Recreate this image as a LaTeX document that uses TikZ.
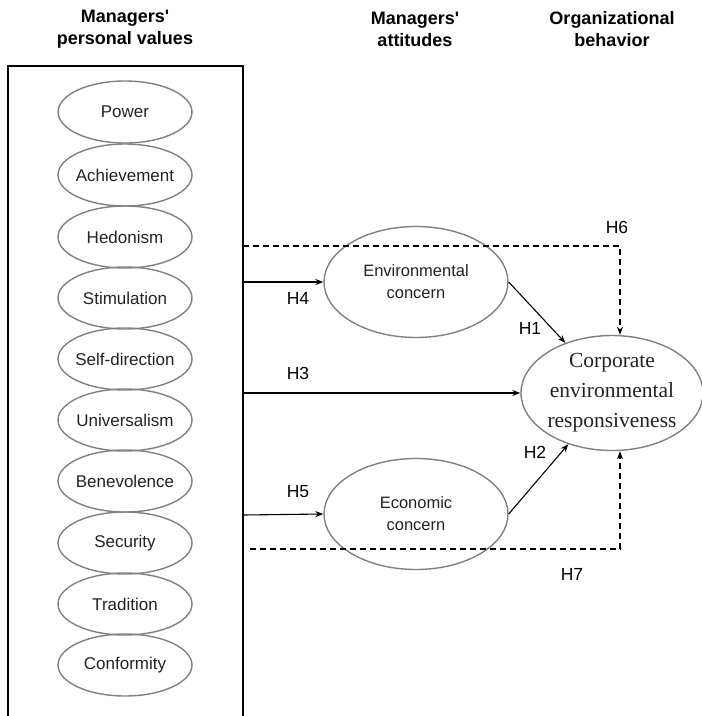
\documentclass[tikz,border=0pt]{standalone}
\usepackage{fontspec}
\setmainfont{Liberation Sans}
\newfontfamily\seriffont{Liberation Serif}
\usepackage{tikz}
\usetikzlibrary{shapes.geometric,arrows.meta}
\definecolor{ellgray}{RGB}{128,128,128}
\definecolor{txtgray}{RGB}{34,34,34}

\begin{document}
\begin{tikzpicture}[x=1pt,y=-1pt,line width=1.1pt,
  >={Stealth[length=8pt,width=6pt]},
  head/.style={align=center,font=\bfseries\fontsize{18}{22}\selectfont},
  value/.style={shape=ellipse,draw=ellgray,line width=1.4pt,minimum width=134pt,minimum height=62pt,inner sep=-10pt,text=txtgray,font=\fontsize{17}{20}\selectfont},
  attitude/.style={shape=ellipse,draw=ellgray,line width=1.4pt,minimum width=184pt,minimum height=111pt,inner sep=0pt,align=center,text=txtgray,font=\fontsize{16.5}{22}\selectfont},
  hyp/.style={font=\fontsize{17.5}{20}\selectfont},
  hypdash/.style={dash pattern=on 6pt off 4pt}]
\useasboundingbox (0,0) rectangle (702,716);

% column heads
\path (125,29) node (hvalues) [head] {Managers\textquotesingle\\personal values};
\path (415,29) node (hattitudes) [head] {Managers\textquotesingle\\attitudes};
\path (612,29) node (hbehavior) [head] {Organizational\\behavior};

% box of values
\coordinate (bl) at (8,716);
\coordinate (tl) at (8,66);
\coordinate (tr) at (243,66);
\coordinate (br) at (243,716);
\draw (bl) -- (tl) -- (tr) -- (br);

\path (125,112) node (power) [value] {Power};
\path (125,175) node (achieve) [value] {Achievement};
\path (125,237) node (hedon) [value] {Hedonism};
\path (125,298) node (stimul) [value] {Stimulation};
\path (125,359) node (selfdir) [value] {Self-direction};
\path (125,420) node (univ) [value] {Universalism};
\path (125,481) node (benev) [value] {Benevolence};
\path (125,543) node (secur) [value] {Security};
\path (125,604) node (trad) [value] {Tradition};
\path (125,665) node (conform) [value] {Conformity};

% attitudes and behavior
\path (416,282) node (env) [attitude] {Environmental\\concern};
\path (416,514) node (econ) [attitude] {Economic\\concern};
\path (612,393) node (corp) [shape=ellipse,draw=ellgray,line width=1.4pt,minimum width=182pt,minimum height=115pt,inner sep=-4pt,align=center,text=txtgray,font=\seriffont\fontsize{21.5}{30}\selectfont] {Corporate\\environmental\\responsiveness};

% start points on the box
\coordinate (h6s) at (243,246);
\coordinate (h6c) at (620,246);
\coordinate (h4s) at (243,282);
\coordinate (h3s) at (243,393);
\coordinate (h5s) at (243,515);
\coordinate (h7s) at (250,549);
\coordinate (h7c) at (620,549);

\draw [->] (h4s) -- (env.west);
\draw [->] (h3s) -- (corp.west);
\draw [->] (h5s) -- (econ.west);
\draw [->] (env.east) -- (corp);
\draw [->] (econ.east) -- (corp);
\draw [->,hypdash] (h6s) -- (h6c) -- (h6c |- corp.north);
\draw [->,hypdash] (h7s) -- (h7c) -- (h7c |- corp.south);

% hypotheses
\path (617,227) node (lh6) [hyp] {H6};
\path (298,298) node (lh4) [hyp] {H4};
\path (530,328) node (lh1) [hyp] {H1};
\path (298,373) node (lh3) [hyp] {H3};
\path (535,452) node (lh2) [hyp] {H2};
\path (298,492) node (lh5) [hyp] {H5};
\path (572,574) node (lh7) [hyp] {H7};

\end{tikzpicture}
\end{document}
